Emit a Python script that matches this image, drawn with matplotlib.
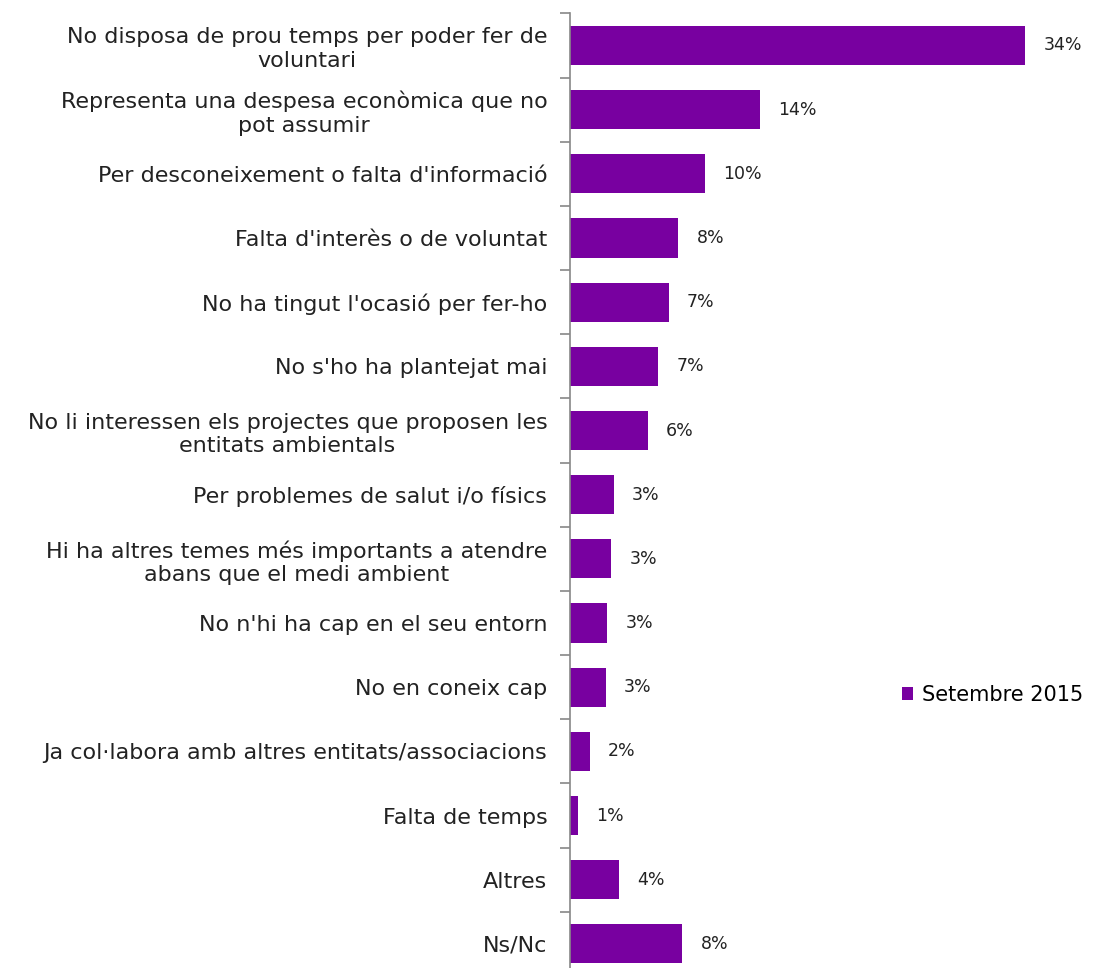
import numpy as np
import matplotlib
matplotlib.use("Agg")
import matplotlib.pyplot as plt
from matplotlib.ticker import FixedLocator

categories = [
    "No disposa de prou temps per poder fer de\nvoluntari",
    "Representa una despesa econòmica que no\npot assumir",
    "Per desconeixement o falta d'informació",
    "Falta d'interès o de voluntat",
    "No ha tingut l'ocasió per fer-ho",
    "No s'ho ha plantejat mai",
    "No li interessen els projectes que proposen les\nentitats ambientals",
    "Per problemes de salut i/o físics",
    "Hi ha altres temes més importants a atendre\nabans que el medi ambient",
    "No n'hi ha cap en el seu entorn",
    "No en coneix cap",
    "Ja col·labora amb altres entitats/associacions",
    "Falta de temps",
    "Altres",
    "Ns/Nc",
]
values = [33.9, 14.2, 10.1, 8.1, 7.4, 6.6, 5.8, 3.3, 3.1, 2.8, 2.7, 1.5, 0.6, 3.7, 8.4]
series_name = "Setembre 2015"

purple = "#7800A0"

fig = plt.figure(figsize=(10.98, 9.68), dpi=100)
# plot area: left spine at x=569.5px, rows from y=13.4px down to 976px
ax = fig.add_axes([569.5 / 1098, -8 / 968, 1 - 569.5 / 1098, 962.6 / 968])

y = np.arange(len(categories))
bars = ax.barh(y, values, height=0.61, color=purple, label=series_name)

px_per_unit = 13.45
ax.set_xlim(0, (1098 - 569.5) / px_per_unit)
ax.set_ylim(len(categories) - 0.5, -0.5)

for yi, v in zip(y, values):
    ax.annotate(f"{v:.0f}%", (v, yi), xytext=(13, 0), textcoords="offset points",
                va="center", ha="left", fontsize=12.5, color="#222222")

ax.set_yticks(y)
ax.set_yticklabels(categories, fontsize=16, color="#222222", multialignment="center",
                   linespacing=1.2)
ax.yaxis.set_minor_locator(FixedLocator(np.arange(-0.5, len(categories), 1)))
ax.tick_params(axis="y", which="major", length=0, pad=16)
ax.tick_params(axis="y", which="minor", length=7, color="#888888", width=1.2)
ax.set_xticks([])

for s in ["top", "right", "bottom"]:
    ax.spines[s].set_visible(False)
ax.spines["left"].set_color("#888888")
ax.spines["left"].set_linewidth(1.2)

fig.legend(handles=[bars], labels=[series_name], loc="center left",
           bbox_to_anchor=(883 / 1098, 1 - 695 / 968), frameon=False,
           fontsize=15, handlelength=0.55, handleheight=0.55, handletextpad=0.4)

fig.savefig("out.png", dpi=100)
